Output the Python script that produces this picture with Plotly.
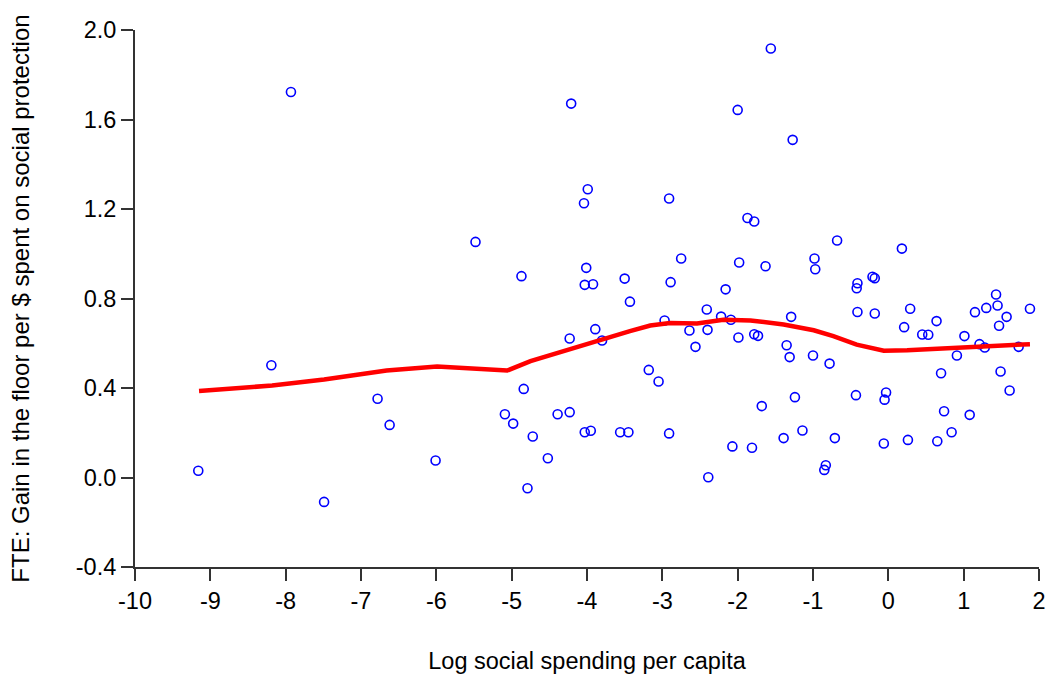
import plotly.graph_objects as go

# Scatter data: log social spending per capita vs FTE gain
x_vals = [-9.16, -8.19, -7.93, -7.49, -6.78, -6.62, -6.01, -5.48, -5.09, -4.98,
          -4.87, -4.84, -4.79, -4.72, -4.52, -4.39, -4.23, -4.23, -4.21, -4.04,
          -4.03, -4.01, -4.03, -3.99, -3.95, -3.92, -3.89, -3.80, -3.56, -3.50,
          -3.45, -3.43, -3.18, -3.05, -2.97, -2.91, -2.91, -2.89, -2.75, -2.64,
          -2.56, -2.41, -2.40, -2.39, -2.22, -2.16, -2.09, -2.07, -2.00, -1.99,
          -1.98, -1.87, -1.81, -1.78, -1.78, -1.73, -1.68, -1.63, -1.56, -1.39,
          -1.35, -1.31, -1.29, -1.27, -1.24, -1.14, -1.00, -0.98, -0.97, -0.85,
          -0.83, -0.78, -0.71, -0.68, -0.43, -0.42, -0.41, -0.41, -0.21, -0.18,
          -0.18, -0.06, -0.05, -0.03, 0.18, 0.21, 0.26, 0.29, 0.45, 0.53,
          0.64, 0.65, 0.70, 0.74, 0.84, 0.91, 1.01, 1.08, 1.15, 1.21,
          1.28, 1.30, 1.43, 1.45, 1.47, 1.49, 1.57, 1.61, 1.73, 1.88]
y_vals = [0.030, 0.502, 1.723, -0.109, 0.352, 0.235, 0.076, 1.053, 0.283, 0.241,
          0.900, 0.396, -0.048, 0.183, 0.086, 0.283, 0.292, 0.621, 1.671, 1.226,
          0.861, 0.937, 0.202, 1.288, 0.209, 0.864, 0.663, 0.612, 0.202, 0.889,
          0.202, 0.786, 0.481, 0.429, 0.702, 1.247, 0.197, 0.873, 0.979, 0.657,
          0.584, 0.751, 0.660, 0.001, 0.719, 0.841, 0.705, 0.139, 1.643, 0.626,
          0.961, 1.160, 0.133, 1.144, 0.640, 0.633, 0.319, 0.944, 1.917, 0.176,
          0.591, 0.538, 0.718, 1.509, 0.359, 0.210, 0.545, 0.979, 0.931, 0.034,
          0.055, 0.509, 0.176, 1.059, 0.368, 0.846, 0.868, 0.740, 0.897, 0.891,
          0.733, 0.152, 0.348, 0.380, 1.023, 0.672, 0.168, 0.754, 0.639, 0.638,
          0.699, 0.162, 0.466, 0.296, 0.202, 0.545, 0.632, 0.280, 0.739, 0.596,
          0.581, 0.758, 0.818, 0.769, 0.678, 0.474, 0.718, 0.389, 0.584, 0.754]

# Smoothed (lowess-type) fit line
fit_x = [-9.15, -8.18, -7.49, -6.66, -5.99, -5.06, -4.75, -4.22, -3.78, -3.43,
         -3.16, -2.90, -2.54, -2.19, -1.83, -1.66, -1.39, -0.99, -0.73, -0.42,
         -0.06, 0.25, 0.69, 1.13, 1.88]
fit_y = [0.387, 0.411, 0.438, 0.478, 0.496, 0.478, 0.520, 0.575, 0.617, 0.654,
         0.679, 0.690, 0.688, 0.705, 0.702, 0.694, 0.684, 0.658, 0.632, 0.594,
         0.567, 0.569, 0.576, 0.581, 0.596]

x_ticks = [-10, -9, -8, -7, -6, -5, -4, -3, -2, -1, 0, 1, 2]
y_ticks = [-0.4, 0.0, 0.4, 0.8, 1.2, 1.6, 2.0]

FONT = "Liberation Sans, Arial, sans-serif"

fig = go.Figure()
fig.add_trace(go.Scatter(
    x=x_vals, y=y_vals, mode="markers",
    marker=dict(symbol="circle-open", size=9, color="#0000FF",
                line=dict(width=1.6, color="#0000FF")),
    showlegend=False, cliponaxis=False))
fig.add_trace(go.Scatter(
    x=fit_x, y=fit_y, mode="lines",
    line=dict(color="#FF0000", width=4.5),
    showlegend=False))

axis_common = dict(
    showgrid=False, zeroline=False, showline=True, linecolor="#333333",
    linewidth=2, ticks="outside", ticklen=12, tickwidth=2, tickcolor="#333333",
    tickfont=dict(family=FONT, size=23.5, color="#000000"),
    mirror=False, automargin=False,
)

fig.update_layout(
    width=1050, height=679,
    margin=dict(l=135, r=11, t=30, b=112),
    paper_bgcolor="white", plot_bgcolor="white",
    font=dict(family=FONT, color="#000000"),
    xaxis=dict(range=[-10, 2], tickvals=x_ticks,
               ticktext=[str(v) for v in x_ticks],
               title=dict(text="Log social spending per capita",
                          font=dict(family=FONT, size=23.5), standoff=39),
               **axis_common),
    yaxis=dict(range=[-0.4, 2.0], tickvals=y_ticks,
               ticktext=[f"{v:.1f}" for v in y_ticks],
               title=dict(text="FTE: Gain in the floor per $ spent on social protection",
                          font=dict(family=FONT, size=24), standoff=39),
               **axis_common),
)

fig.write_html("out.html",
               config={"displayModeBar": False},
               post_script="document.body.style.margin='0px';document.body.style.padding='0px';")
